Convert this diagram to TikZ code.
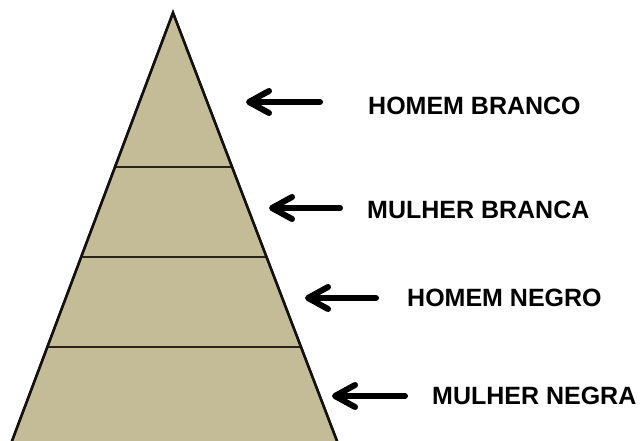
\documentclass[tikz,border=0pt]{standalone}
\usepackage{fontspec}
\setmainfont{Liberation Sans}
\usepackage{tikz}
\usetikzlibrary{arrows.meta, calc}
\definecolor{areia}{HTML}{C4BB97}
\definecolor{contorno}{HTML}{111111}
\definecolor{faixa}{HTML}{2A2418}
\tikzset{
  every picture/.style={font=\bfseries},
  piramide/.style={draw=contorno, fill=areia, line width=2.4pt, line join=miter},
  divisa/.style={draw=faixa, line width=2pt},
  rotulo/.style={anchor=west, inner sep=0pt, text=black, font=\fontsize{25}{28}\selectfont\bfseries},
  seta/.style={-{Straight Barb[length=20pt, width=22pt, round]}, line width=6pt, line cap=round, black},
}

\begin{document}
\begin{tikzpicture}[x=1pt, y=-1pt]
  \useasboundingbox (0,0) rectangle (641,441);
  \coordinate (cima) at (173,12.7);
  \coordinate (baseesq) at (12,441);
  \coordinate (basedir) at (337,441);
  \fill[piramide] (cima) -- ($(cima)!1.02!(baseesq)$) -- ($(cima)!1.02!(basedir)$) -- cycle;
  \draw[divisa] ($(cima)!0.360!(baseesq)$) -- ($(cima)!0.360!(basedir)$);
  \draw[divisa] ($(cima)!0.570!(baseesq)$) -- ($(cima)!0.570!(basedir)$);
  \draw[divisa] ($(cima)!0.781!(baseesq)$) -- ($(cima)!0.781!(basedir)$);
  \draw[piramide, fill=none] ($(cima)!1.02!(baseesq)$) -- (cima) -- ($(cima)!1.02!(basedir)$);
  % rotulos
  \node[rotulo] (hb) at (368,106) {HOMEM BRANCO};
  \node[rotulo] (mb) at (367,210) {MULHER BRANCA};
  \node[rotulo] (hn) at (407,298) {HOMEM NEGRO};
  \node[rotulo] (mn) at (432,396) {MULHER NEGRA};
  % setas
  \coordinate (c1) at (320,102);  \coordinate (p1) at (246,102);
  \coordinate (c2) at (340,208);  \coordinate (p2) at (269,208);
  \coordinate (c3) at (376,298);  \coordinate (p3) at (305,298);
  \coordinate (c4) at (405,396);  \coordinate (p4) at (332,396);
  \draw[seta] (c1) -- (p1);
  \draw[seta] (c2) -- (p2);
  \draw[seta] (c3) -- (p3);
  \draw[seta] (c4) -- (p4);
\end{tikzpicture}
\end{document}
